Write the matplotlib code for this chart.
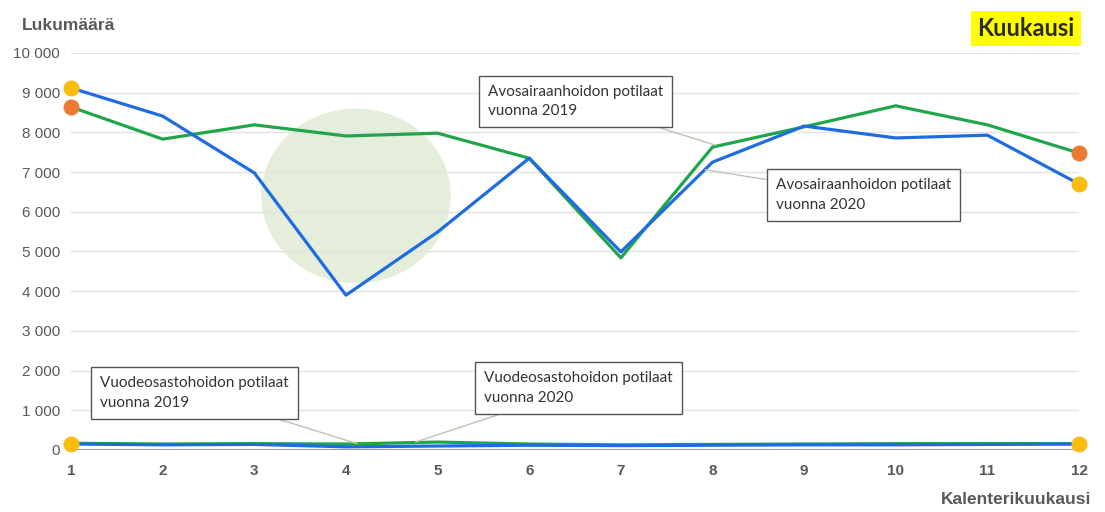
import numpy as np
import matplotlib.pyplot as plt
from matplotlib.patches import Ellipse

months = np.arange(1, 13)
# outpatient (avosairaanhoito) patients per month
avo_2019 = [8640, 7830, 8190, 7910, 7980, 7350, 4840, 7630, 8140, 8670, 8190, 7480]
avo_2020 = [9120, 8410, 6980, 3900, 5490, 7350, 4990, 7250, 8160, 7860, 7930, 6700]
# inpatient (vuodeosastohoito) patients per month
vuode_2019 = [170, 150, 160, 150, 200, 150, 130, 140, 150, 160, 160, 160]
vuode_2020 = [150, 130, 140, 80, 100, 120, 110, 120, 130, 130, 140, 150]
yticks = [0, 1000, 2000, 3000, 4000, 5000, 6000, 7000, 8000, 9000, 10000]
ytick_labels = ["0", "1 000", "2 000", "3 000", "4 000", "5 000", "6 000",
                "7 000", "8 000", "9 000", "10 000"]

blue = "#1f6be0"
green = "#1fa64a"
orange = "#ec7a32"
yellow = "#fbbd0c"
gray = "#595959"

plt.rcParams['font.family'] = ['Liberation Sans', 'DejaVu Sans']

fig = plt.figure(figsize=(11.05, 5.12), dpi=100)
ax = fig.add_axes([0.0643, 0.1211, 0.9122, 0.7754])

# shaded highlight around the spring dip
ax.add_patch(Ellipse((4.11, 6400), 2.07, 4400, facecolor="#e4eedb", edgecolor="none", zorder=0))

ax.plot(months, avo_2019, color=green, lw=2.3, zorder=3)
ax.plot(months, avo_2020, color=blue, lw=2.3, zorder=4)
ax.plot(months, vuode_2019, color=green, lw=2.3, zorder=3)
ax.plot(months, vuode_2020, color=blue, lw=2.3, zorder=4)

# end point markers
ends = [0, -1]
ax.scatter(months[ends], np.array(avo_2020)[ends], s=110, color=yellow, zorder=6, clip_on=False)
ax.scatter(months[ends], np.array(avo_2019)[ends], s=110, color=orange, zorder=6, clip_on=False)
ax.scatter(months[ends], np.array(vuode_2020)[ends], s=110, color=yellow, zorder=6, clip_on=False)

ax.set_xlim(1, 12)
ax.set_ylim(0, 10000)
ax.set_xticks(months)
ax.set_xticklabels([str(m) for m in months], fontsize=11, fontweight="bold", color=gray)
ax.set_yticks(yticks)
ax.set_yticklabels(ytick_labels, fontsize=11, color=gray)
ax.tick_params(length=0, pad=8)
ax.tick_params(axis="x", pad=10)
ax.grid(axis="y", color="#e3e3e3", lw=1)
ax.set_axisbelow(True)
for s in ax.spines.values():
    s.set_visible(False)
ax.axhline(0, color="#9a9a9a", lw=1.5, zorder=2)

fig.text(0.02, 0.965, "Lukumäärä", fontsize=12.5, fontweight="bold", color=gray, va="top")
fig.text(0.988, 0.024, "Kalenterikuukausi", fontsize=12.5, fontweight="bold", color=gray,
         ha="right", va="center")
fig.text(0.9285, 0.945, "Kuukausi", fontsize=17, fontweight="bold", color="#2b2b2b",
         family=["Lato", "DejaVu Sans"], va="center", ha="center",
         bbox=dict(boxstyle="square,pad=0.25", facecolor="#ffff00", edgecolor="none"))

box = dict(boxstyle="square,pad=0.6", facecolor="white", edgecolor="#555555", lw=1)
arrow = dict(arrowstyle="-", color="#bcc4b4", lw=1, shrinkA=0, shrinkB=0)
notes = [
    ("Avosairaanhoidon potilaat\nvuonna 2019", (8.03, 7680), (5.55, 9200)),
    ("Avosairaanhoidon potilaat\nvuonna 2020", (7.92, 7060), (8.69, 6840)),
    ("Vuodeosastohoidon potilaat\nvuonna 2019", (4.12, 160), (1.32, 1860)),
    ("Vuodeosastohoidon potilaat\nvuonna 2020", (4.76, 200), (5.51, 1980)),
]
for txt, xy, xyt in notes:
    ax.annotate(txt, xy=xy, xytext=xyt, fontsize=11, color="#333333",
                family=["Lato", "DejaVu Sans"], va="top", ha="left",
                linespacing=1.5, bbox=box, arrowprops=arrow, zorder=7)

fig.savefig("out.png", dpi=100)
